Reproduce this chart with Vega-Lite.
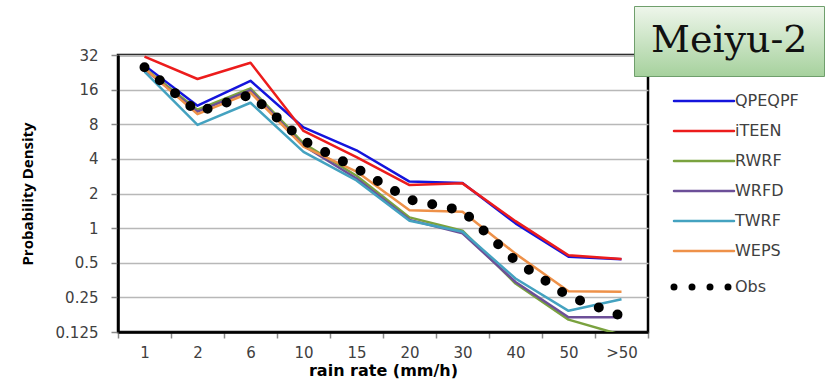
{
  "$schema": "https://vega.github.io/schema/vega-lite/v6.json",
  "width": 530,
  "height": 277,
  "autosize": {"type": "none"},
  "padding": {"left": 118, "top": 55, "right": 179, "bottom": 47},
  "background": "white",
  "config": {
    "view": {"stroke": "#000", "strokeWidth": 2.5},
    "axis": {"labelFont": "DejaVu Sans", "labelFontSize": 15, "labelColor": "#404040", "titleColor": "#000", "domainColor": "#000", "domainWidth": 2.5, "tickColor": "#8a8a8a", "tickWidth": 1.5}
  },
  "datasets": {
    "pdf": [
      {"series": "QPEQPF", "rate": "1", "density": 26},
      {"series": "QPEQPF", "rate": "2", "density": 11.6},
      {"series": "QPEQPF", "rate": "6", "density": 19.1},
      {"series": "QPEQPF", "rate": "10", "density": 7.5},
      {"series": "QPEQPF", "rate": "15", "density": 4.75},
      {"series": "QPEQPF", "rate": "20", "density": 2.54},
      {"series": "QPEQPF", "rate": "30", "density": 2.47},
      {"series": "QPEQPF", "rate": "40", "density": 1.1},
      {"series": "QPEQPF", "rate": "50", "density": 0.565},
      {"series": "QPEQPF", "rate": ">50", "density": 0.535},
      {"series": "iTEEN", "rate": "1", "density": 31},
      {"series": "iTEEN", "rate": "2", "density": 19.8},
      {"series": "iTEEN", "rate": "6", "density": 27.4},
      {"series": "iTEEN", "rate": "10", "density": 7.0},
      {"series": "iTEEN", "rate": "15", "density": 4.15},
      {"series": "iTEEN", "rate": "20", "density": 2.37},
      {"series": "iTEEN", "rate": "30", "density": 2.45},
      {"series": "iTEEN", "rate": "40", "density": 1.15},
      {"series": "iTEEN", "rate": "50", "density": 0.58},
      {"series": "iTEEN", "rate": ">50", "density": 0.54},
      {"series": "RWRF", "rate": "1", "density": 24.5},
      {"series": "RWRF", "rate": "2", "density": 10.7},
      {"series": "RWRF", "rate": "6", "density": 16.4},
      {"series": "RWRF", "rate": "10", "density": 5.45},
      {"series": "RWRF", "rate": "15", "density": 2.85},
      {"series": "RWRF", "rate": "20", "density": 1.24},
      {"series": "RWRF", "rate": "30", "density": 0.95},
      {"series": "RWRF", "rate": "40", "density": 0.33},
      {"series": "RWRF", "rate": "50", "density": 0.16},
      {"series": "RWRF", "rate": ">50", "density": 0.118},
      {"series": "WRFD", "rate": "1", "density": 24},
      {"series": "WRFD", "rate": "2", "density": 10.3},
      {"series": "WRFD", "rate": "6", "density": 15.8},
      {"series": "WRFD", "rate": "10", "density": 5.2},
      {"series": "WRFD", "rate": "15", "density": 2.7},
      {"series": "WRFD", "rate": "20", "density": 1.18},
      {"series": "WRFD", "rate": "30", "density": 0.9},
      {"series": "WRFD", "rate": "40", "density": 0.34},
      {"series": "WRFD", "rate": "50", "density": 0.168},
      {"series": "WRFD", "rate": ">50", "density": 0.168},
      {"series": "TWRF", "rate": "1", "density": 22.9},
      {"series": "TWRF", "rate": "2", "density": 7.9},
      {"series": "TWRF", "rate": "6", "density": 12.3},
      {"series": "TWRF", "rate": "10", "density": 4.6},
      {"series": "TWRF", "rate": "15", "density": 2.6},
      {"series": "TWRF", "rate": "20", "density": 1.16},
      {"series": "TWRF", "rate": "30", "density": 0.93},
      {"series": "TWRF", "rate": "40", "density": 0.365},
      {"series": "TWRF", "rate": "50", "density": 0.191},
      {"series": "TWRF", "rate": ">50", "density": 0.241},
      {"series": "WEPS", "rate": "1", "density": 24.5},
      {"series": "WEPS", "rate": "2", "density": 9.8},
      {"series": "WEPS", "rate": "6", "density": 15.1},
      {"series": "WEPS", "rate": "10", "density": 5.1},
      {"series": "WEPS", "rate": "15", "density": 3.1},
      {"series": "WEPS", "rate": "20", "density": 1.43},
      {"series": "WEPS", "rate": "30", "density": 1.39},
      {"series": "WEPS", "rate": "40", "density": 0.6},
      {"series": "WEPS", "rate": "50", "density": 0.283},
      {"series": "WEPS", "rate": ">50", "density": 0.28},
      {"series": "Obs", "rate": "1", "density": 25},
      {"series": "Obs", "rate": "2", "density": 10.2},
      {"series": "Obs", "rate": "6", "density": 14.5},
      {"series": "Obs", "rate": "10", "density": 5.75},
      {"series": "Obs", "rate": "15", "density": 3.3},
      {"series": "Obs", "rate": "20", "density": 1.77},
      {"series": "Obs", "rate": "30", "density": 1.42},
      {"series": "Obs", "rate": "40", "density": 0.52},
      {"series": "Obs", "rate": "50", "density": 0.256},
      {"series": "Obs", "rate": ">50", "density": 0.172}
    ],
    "label": [{"name": "Meiyu-2"}]
  },
  "encoding": {
    "x": {
      "field": "rate", "type": "ordinal",
      "sort": ["1", "2", "6", "10", "15", "20", "30", "40", "50", ">50"],
      "scale": {"type": "band", "paddingInner": 0, "paddingOuter": 0},
      "bandPosition": 0.5,
      "axis": {"title": "rain rate (mm/h)", "titleFont": "DejaVu Sans", "titleFontWeight": "bold", "titleFontSize": 16, "titlePadding": 2, "labelAngle": 0, "tickBand": "extent", "tickSize": 6, "labelPadding": 7, "grid": false}
    },
    "y": {
      "field": "density", "type": "quantitative",
      "scale": {"type": "log", "base": 2, "domain": [0.125, 32]},
      "axis": {"title": "Probability Density", "titleFont": "Open Sans", "titleFontWeight": "bold", "titleFontSize": 15, "titlePadding": 20, "values": [0.125, 0.25, 0.5, 1, 2, 4, 8, 16, 32], "format": "~g", "tickSize": 7, "labelPadding": 13, "grid": true, "gridColor": "#b8b8b8", "gridWidth": 1.5}
    },
    "color": {
      "field": "series", "type": "nominal",
      "scale": {"domain": ["QPEQPF", "iTEEN", "RWRF", "WRFD", "TWRF", "WEPS", "Obs"], "range": ["#1414dc", "#ec1c1c", "#7aa23f", "#6c4f98", "#44a2c0", "#ee9149", "#000000"]},
      "legend": {
        "title": null, "orient": "none", "legendX": 563, "legendY": 38, "padding": 0,
        "symbolSize": 900, "labelOffset": 38, "rowPadding": 14,
        "labelFont": "DejaVu Sans", "labelFontSize": 16, "labelColor": "#404040",
        "encode": {"symbols": {"update": {
          "shape": {"value": "M-1,0H3"},
          "strokeDash": {"signal": "datum.value === 'Obs' ? [0, 18] : [1, 0]"},
          "strokeWidth": {"signal": "datum.value === 'Obs' ? 7 : 2.5"},
          "strokeCap": {"value": "round"}
        }}}
      }
    }
  },
  "layer": [
    {
      "data": {"name": "pdf"},
      "transform": [{"filter": "datum.series !== 'Obs'"}],
      "mark": {"type": "line", "strokeWidth": 2.5, "strokeJoin": "round", "clip": true}
    },
    {
      "data": {"name": "pdf"},
      "transform": [{"filter": "datum.series === 'Obs'"}],
      "mark": {"type": "line", "strokeWidth": 10, "strokeCap": "round", "strokeDash": [0, 20], "clip": true}
    },
    {
      "data": {"name": "label"},
      "mark": {"type": "point", "opacity": 0},
      "encoding": {
        "x": null, "y": null, "color": null,
        "shape": {
          "field": "name", "type": "nominal",
          "legend": {
            "title": null, "orient": "none", "legendX": 516, "legendY": -49, "padding": 16,
            "symbolSize": 0, "symbolOpacity": 0, "symbolStrokeWidth": 0, "labelOffset": -37,
            "labelFont": "DejaVu Serif", "labelFontSize": 38, "labelColor": "#111",
            "fillColor": {"value": {"gradient": "linear", "x1": 0, "y1": 0, "x2": 0, "y2": 1, "stops": [{"offset": 0, "color": "#eef6eb"}, {"offset": 1, "color": "#a6d19d"}]}},
            "strokeColor": "#6f9f6c"
          }
        }
      }
    }
  ]
}
